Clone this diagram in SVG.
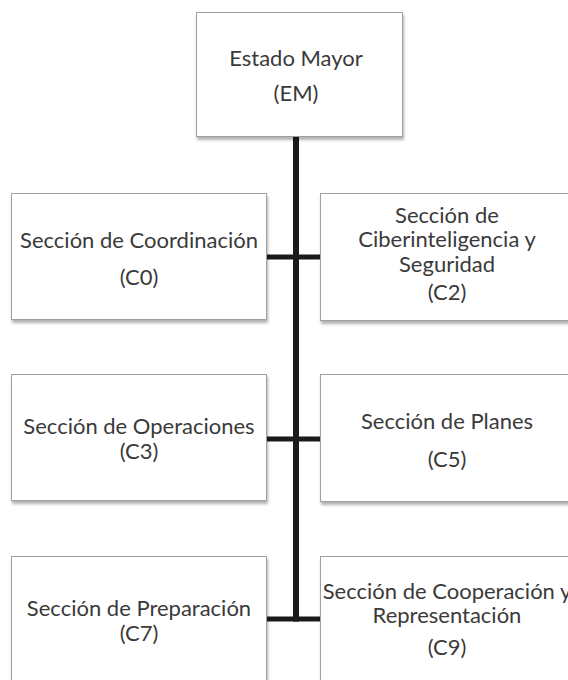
<svg xmlns="http://www.w3.org/2000/svg" width="568" height="680" viewBox="0 0 568 680">
<defs>
<filter id="sh" x="-5%" y="-5%" width="115%" height="120%">
<feDropShadow dx="1" dy="3" stdDeviation="1.5" flood-color="#000" flood-opacity="0.3"/>
</filter>
<style>
.box{fill:#fff;stroke:#a0a0a0;stroke-width:1;filter:url(#sh)}
.t{font-family:Lato,"Liberation Sans",sans-serif;font-size:22px;fill:#3a3a3a;text-anchor:middle}
.c{stroke:#1a1a1a;fill:none}
</style>
</defs>
<rect width="568" height="680" fill="#fff"/>
<g id="connectors">
<line class="c" x1="296" y1="137" x2="296" y2="621.5" stroke-width="6"/>
<line class="c" x1="267" y1="257" x2="320" y2="257" stroke-width="5"/>
<line class="c" x1="267" y1="439" x2="320" y2="439" stroke-width="5"/>
<line class="c" x1="267" y1="619" x2="320" y2="619" stroke-width="5"/>
</g>
<g id="EM">
<rect class="box" x="196.5" y="12.5" width="206" height="124"/>
<text class="t" x="296" y="66">Estado Mayor</text>
<text class="t" x="296" y="101">(EM)</text>
</g>
<g id="C0">
<rect class="box" x="11.5" y="193.5" width="255" height="126"/>
<text class="t" x="139" y="248">Sección de Coordinación</text>
<text class="t" x="139" y="285">(C0)</text>
</g>
<g id="C2">
<rect class="box" x="320.5" y="193.5" width="255" height="127"/>
<text class="t" x="447" y="223">Sección de</text>
<text class="t" x="447" y="247">Ciberinteligencia y</text>
<text class="t" x="447" y="272">Seguridad</text>
<text class="t" x="447" y="300">(C2)</text>
</g>
<g id="C3">
<rect class="box" x="11.5" y="374.5" width="255" height="126"/>
<text class="t" x="139" y="434">Sección de Operaciones</text>
<text class="t" x="139" y="459">(C3)</text>
</g>
<g id="C5">
<rect class="box" x="320.5" y="374.5" width="255" height="127"/>
<text class="t" x="447" y="429">Sección de Planes</text>
<text class="t" x="447" y="467">(C5)</text>
</g>
<g id="C7">
<rect class="box" x="11.5" y="556.5" width="255" height="140"/>
<text class="t" x="139" y="616">Sección de Preparación</text>
<text class="t" x="139" y="641">(C7)</text>
</g>
<g id="C9">
<rect class="box" x="320.5" y="556.5" width="255" height="140"/>
<text class="t" x="447" y="599">Sección de Cooperación y</text>
<text class="t" x="447" y="623">Representación</text>
<text class="t" x="447" y="655">(C9)</text>
</g>
</svg>
